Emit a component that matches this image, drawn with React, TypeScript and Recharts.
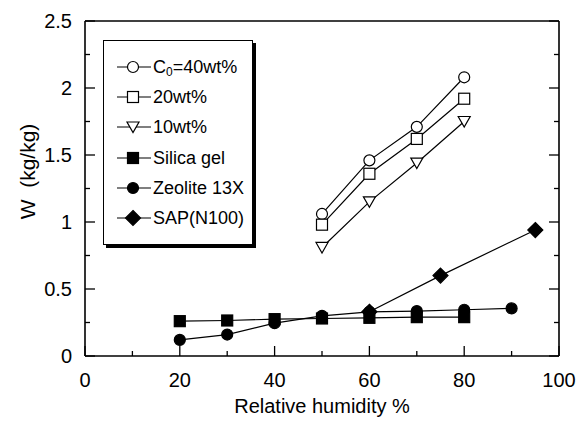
import React from "react";
import { LineChart, Line, XAxis, YAxis, Legend } from "recharts";

// relative humidity (%) and uptake W (kg/kg)
const rhGel = [50, 60, 70, 80];
const w40wt = [1.06, 1.46, 1.71, 2.08];
const w20wt = [0.98, 1.36, 1.62, 1.92];
const w10wt = [0.81, 1.15, 1.44, 1.75];

const rhSilica = [20, 30, 40, 50, 60, 70, 80];
const wSilica = [0.26, 0.265, 0.275, 0.28, 0.285, 0.29, 0.29];

const rhZeolite = [20, 30, 40, 50, 60, 70, 80, 90];
const wZeolite = [0.12, 0.16, 0.245, 0.3, 0.33, 0.335, 0.345, 0.355];

const rhSap = [60, 75, 95];
const wSap = [0.33, 0.6, 0.94];

const xTicks = [0, 10, 20, 30, 40, 50, 60, 70, 80, 90, 100];
const yTicks = [0, 0.25, 0.5, 0.75, 1, 1.25, 1.5, 1.75, 2, 2.25, 2.5];

const FONT = "'Liberation Sans', Arial, Helvetica, sans-serif";

type Shape = "circle" | "square" | "triangle" | "diamond";

const series: { id: string; label: React.ReactNode; x: number[]; y: number[]; shape: Shape; filled: boolean }[] = [
  { id: "c40", label: <>C<sub style={{ fontSize: 12, verticalAlign: "-3px", lineHeight: 0 }}>0</sub>=40wt%</>, x: rhGel, y: w40wt, shape: "circle", filled: false },
  { id: "c20", label: "20wt%", x: rhGel, y: w20wt, shape: "square", filled: false },
  { id: "c10", label: "10wt%", x: rhGel, y: w10wt, shape: "triangle", filled: false },
  { id: "silica", label: "Silica gel", x: rhSilica, y: wSilica, shape: "square", filled: true },
  { id: "zeolite", label: "Zeolite 13X", x: rhZeolite, y: wZeolite, shape: "circle", filled: true },
  { id: "sap", label: "SAP(N100)", x: rhSap, y: wSap, shape: "diamond", filled: true },
];

function Marker({ cx, cy, shape, filled }: { cx: number; cy: number; shape: Shape; filled: boolean }) {
  const fill = filled ? "#000" : "#fff";
  const common = { fill, stroke: "#000", strokeWidth: 1.2 };
  if (shape === "circle") return <circle cx={cx} cy={cy} r={5.5} {...common} />;
  if (shape === "square") return <rect x={cx - 5.5} y={cy - 5.5} width={11} height={11} {...common} />;
  if (shape === "triangle")
    return <polygon points={`${cx - 6},${cy - 5} ${cx + 6},${cy - 5} ${cx},${cy + 5.5}`} {...common} />;
  return <polygon points={`${cx},${cy - 7.5} ${cx + 7.5},${cy} ${cx},${cy + 7.5} ${cx - 7.5},${cy}`} {...common} />;
}

const isMajorX = (v: number) => v % 20 === 0;
const isMajorY = (v: number) => Math.abs(v * 2 - Math.round(v * 2)) < 1e-6;

const BottomTick = ({ x, y, payload }: any) => {
  const major = isMajorX(payload.value);
  return (
    <g>
      <line x1={x} y1={y} x2={x} y2={y - (major ? 10 : 5)} stroke="#000" strokeWidth={1.3} />
      {major && (
        <text x={x} y={y + 31} textAnchor="middle" fontSize={20} fontFamily={FONT} fill="#000">
          {payload.value}
        </text>
      )}
    </g>
  );
};

const TopTick = ({ x, y, payload }: any) => (
  <line x1={x} y1={y} x2={x} y2={y + (isMajorX(payload.value) ? 10 : 5)} stroke="#000" strokeWidth={1.3} />
);

const LeftTick = ({ x, y, payload }: any) => {
  const major = isMajorY(payload.value);
  return (
    <g>
      <line x1={x} y1={y} x2={x + (major ? 10 : 5)} y2={y} stroke="#000" strokeWidth={1.3} />
      {major && (
        <text x={x - 13} y={y + 7} textAnchor="end" fontSize={20} fontFamily={FONT} fill="#000">
          {String(payload.value)}
        </text>
      )}
    </g>
  );
};

const RightTick = ({ x, y, payload }: any) => (
  <line x1={x} y1={y} x2={x - (isMajorY(payload.value) ? 10 : 5)} y2={y} stroke="#000" strokeWidth={1.3} />
);

const renderLegend = () => (
  <div
    style={{
      boxSizing: "border-box",
      width: 150,
      height: 205,
      border: "1px solid #000",
      boxShadow: "3px 3px 0 #000",
      background: "#fff",
      paddingTop: 11,
      fontFamily: FONT,
      fontSize: 18,
      color: "#000",
    }}
  >
    {series.map((s) => (
      <div key={s.id} style={{ display: "flex", alignItems: "center", height: 30.2 }}>
        <svg width={49} height={30} style={{ display: "block" }}>
          <line x1={13} y1={15} x2={47} y2={15} stroke="#000" strokeWidth={1.2} />
          <Marker cx={29} cy={15} shape={s.shape} filled={s.filled} />
        </svg>
        <span style={{ lineHeight: "30px", whiteSpace: "nowrap" }}>{s.label}</span>
      </div>
    ))}
  </div>
);

export default function App() {
  const axisLine = { stroke: "#000", strokeWidth: 1.6 };
  return (
    <div style={{ position: "absolute", left: 0, top: 0, width: 584, height: 425, background: "#fff" }}>
      <LineChart width={584} height={425} margin={{ top: 0, right: 0, bottom: 0, left: 0 }}>
        <XAxis
          type="number"
          dataKey="rh"
          domain={[0, 100]}
          ticks={xTicks}
          interval={0}
          tickSize={0}
          tickMargin={0}
          tickLine={false}
          tick={BottomTick}
          axisLine={axisLine}
          height={69}
          allowDataOverflow
          label={({ viewBox }: any) => (
            <text
              x={viewBox.x + viewBox.width / 2}
              y={413}
              textAnchor="middle"
              fontSize={20}
              fontFamily={FONT}
              fill="#000"
            >
              Relative humidity %
            </text>
          )}
        />
        <XAxis
          xAxisId="top"
          orientation="top"
          type="number"
          domain={[0, 100]}
          ticks={xTicks}
          interval={0}
          tickSize={0}
          tickMargin={0}
          tickLine={false}
          tick={TopTick}
          axisLine={axisLine}
          height={21}
          allowDataOverflow
        />
        <YAxis
          type="number"
          domain={[0, 2.5]}
          ticks={yTicks}
          interval={0}
          tickSize={0}
          tickMargin={0}
          tickLine={false}
          tick={LeftTick}
          axisLine={axisLine}
          width={85}
          allowDataOverflow
          label={({ viewBox }: any) => (
            <text
              x={27}
              y={viewBox.y + viewBox.height / 2 - 17}
              transform={`rotate(-90 27 ${viewBox.y + viewBox.height / 2 - 17})`}
              textAnchor="middle"
              dominantBaseline="central"
              fontSize={21}
              fontFamily={FONT}
              fill="#000"
              style={{ whiteSpace: "pre" }}
            >
              {"W  (kg/kg)"}
            </text>
          )}
        />
        <YAxis
          yAxisId="right"
          orientation="right"
          type="number"
          domain={[0, 2.5]}
          ticks={yTicks}
          interval={0}
          tickSize={0}
          tickMargin={0}
          tickLine={false}
          tick={RightTick}
          axisLine={axisLine}
          width={25}
          allowDataOverflow
        />
        <Legend
          layout="vertical"
          align="center"
          verticalAlign="middle"
          content={renderLegend}
          wrapperStyle={{ left: 103, top: 40, width: 150, height: 205 }}
        />
        {series.map((s) => (
          <Line
            key={s.id}
            name={s.id}
            data={s.x.map((rh, i) => ({ rh, w: s.y[i] }))}
            dataKey="w"
            stroke="#000"
            strokeWidth={1.2}
            isAnimationActive={false}
            dot={(p: any) => (
              <Marker key={`${s.id}-${p.index}`} cx={p.cx} cy={p.cy} shape={s.shape} filled={s.filled} />
            )}
            activeDot={false}
          />
        ))}
      </LineChart>
    </div>
  );
}
